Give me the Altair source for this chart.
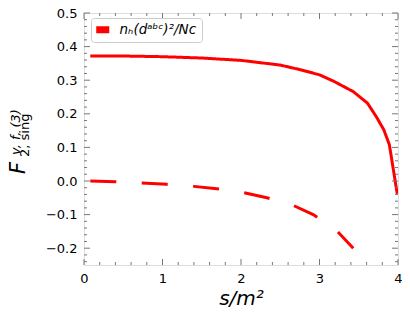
import altair as alt
import pandas as pd

# ---- data ----
s_solid = [0.08, 0.5, 1.0, 1.5, 2.0, 2.5, 2.76, 3.0, 3.18, 3.43, 3.61, 3.73, 3.82, 3.89, 3.99]
F_solid = [0.372, 0.372, 0.370, 0.366, 0.359, 0.345, 0.331, 0.316, 0.297, 0.266, 0.232, 0.189, 0.152, 0.108, -0.038]

s_dashed = [0.08, 0.4, 1.05, 1.4, 1.69, 2.0, 2.33, 2.65, 2.92, 3.22, 3.43]
F_dashed = [0.0, -0.002, -0.010, -0.016, -0.023, -0.033, -0.050, -0.071, -0.100, -0.148, -0.200]

legend_label = "nₕ(dᵃᵇᶜ)²/Nᴄ"
x_ticks = [0, 1, 2, 3, 4]
x_minor = [0.2, 0.4, 0.6, 0.8, 1.2, 1.4, 1.6, 1.8, 2.2, 2.4, 2.6, 2.8, 3.2, 3.4, 3.6, 3.8]
y_ticks = [-0.2, -0.1, 0.0, 0.1, 0.2, 0.3, 0.4, 0.5]
y_minor = [-0.24, -0.22, -0.18, -0.16, -0.14, -0.12, -0.08, -0.06, -0.04, -0.02,
           0.02, 0.04, 0.06, 0.08, 0.12, 0.14, 0.16, 0.18, 0.22, 0.24, 0.26, 0.28,
           0.32, 0.34, 0.36, 0.38, 0.42, 0.44, 0.46, 0.48]
x_title = "s/m²"
y_title_main = ["F"]
y_title_sup = ["v, f, (3)"]
y_title_sub = ["2, sing"]

W, H = 314, 252
AX = "#777777"
FONT = "DejaVu Sans"
RED = "#ff0000"
RECT = "M-1,-0.54L1,-0.54L1,0.54L-1,0.54Z"

df = pd.concat([
    pd.DataFrame({"s": s_solid, "F": F_solid, "part": "re", "label": legend_label}),
    pd.DataFrame({"s": s_dashed, "F": F_dashed, "part": "im", "label": legend_label}),
])

xs = alt.Scale(domain=[0, 4], nice=False, zero=False)
ys = alt.Scale(domain=[-0.25, 0.5], nice=False, zero=False)

xaxis = alt.Axis(
    values=x_ticks, format="d", title=x_title, ticks=False, domain=False, grid=False,
    labelFontSize=13, labelFont=FONT, labelColor="black", labelPadding=7, labelFlush=False,
    titleFontSize=20, titleFont=FONT, titleFontStyle="italic", titleFontWeight="normal",
    titleColor="black", titlePadding=3)
yaxis = alt.Axis(
    values=y_ticks, format=".1f", title=None, ticks=False, domain=False, grid=False,
    labelFontSize=13, labelFont=FONT, labelColor="black", labelPadding=7, labelFlush=False)

lines = alt.Chart(df).mark_line(strokeWidth=3, clip=True, color=RED).encode(
    x=alt.X("s:Q", scale=xs, axis=xaxis),
    y=alt.Y("F:Q", scale=ys, axis=yaxis),
    strokeDash=alt.StrokeDash("part:N", scale=alt.Scale(domain=["re", "im"], range=[[1, 0], [26, 25.5]]), legend=None),
    detail="part:N",
    order=alt.Order("s:Q"),
)

legend_layer = alt.Chart(pd.DataFrame({"s": s_solid[:1], "F": F_solid[:1], "label": [legend_label]})).mark_point(
    filled=True, opacity=0, shape=RECT, size=169
).encode(
    x=alt.X("s:Q", scale=xs, axis=xaxis),
    y=alt.Y("F:Q", scale=ys, axis=yaxis),
    color=alt.Color("label:N", scale=alt.Scale(range=[RED]), legend=alt.Legend(
        title=None, orient="none", legendX=7, legendY=5, padding=5,
        strokeColor="#cccccc", fillColor="white", cornerRadius=3,
        symbolType=RECT, symbolSize=169,
        symbolFillColor=RED, symbolStrokeWidth=0, symbolOpacity=1,
        labelFontSize=13.5, labelFont=FONT, labelFontStyle="italic", labelColor="black",
        labelOffset=10)),
)

def xtick_layers(vals, length):
    c = alt.Chart(pd.DataFrame({"v": vals})).mark_rule(color=AX, strokeWidth=1)
    return [
        c.encode(x=alt.X("v:Q", scale=xs, axis=xaxis), y=alt.value(H), y2=alt.value(H - length)),
        c.encode(x=alt.X("v:Q", scale=xs, axis=xaxis), y=alt.value(0), y2=alt.value(length)),
    ]

def ytick_layers(vals, length):
    c = alt.Chart(pd.DataFrame({"v": vals})).mark_rule(color=AX, strokeWidth=1)
    return [
        c.encode(y=alt.Y("v:Q", scale=ys, axis=yaxis), x=alt.value(0), x2=alt.value(length)),
        c.encode(y=alt.Y("v:Q", scale=ys, axis=yaxis), x=alt.value(W), x2=alt.value(W - length)),
    ]

ticks = (xtick_layers(x_ticks, 6) + xtick_layers(x_minor, 3)
         + ytick_layers(y_ticks, 6) + ytick_layers(y_minor, 3))

t_main = alt.Chart(pd.DataFrame({"t": y_title_main})).mark_text(
    angle=270, fontSize=21, font=FONT, fontStyle="italic", align="center", baseline="middle", color="black"
).encode(text="t:N", x=alt.value(-65), y=alt.value(155))
t_sup = alt.Chart(pd.DataFrame({"t": y_title_sup})).mark_text(
    angle=270, fontSize=13, font=FONT, fontStyle="italic", align="left", baseline="middle", color="black"
).encode(text="t:N", x=alt.value(-68.5), y=alt.value(142))
t_sub = alt.Chart(pd.DataFrame({"t": y_title_sub})).mark_text(
    angle=270, fontSize=13, font=FONT, align="left", baseline="middle", color="black"
).encode(text="t:N", x=alt.value(-59.5), y=alt.value(144))

chart = alt.layer(lines, legend_layer, *ticks, t_main, t_sup, t_sub).properties(
    width=W, height=H,
    autosize=alt.AutoSizeParams(type="none"),
    padding={"left": 76, "top": 5, "right": 4, "bottom": 50},
).configure_view(stroke=AX, strokeWidth=1.2).configure(background="white")

chart.save("out.html", embed_options={"renderer": "svg", "actions": False})
